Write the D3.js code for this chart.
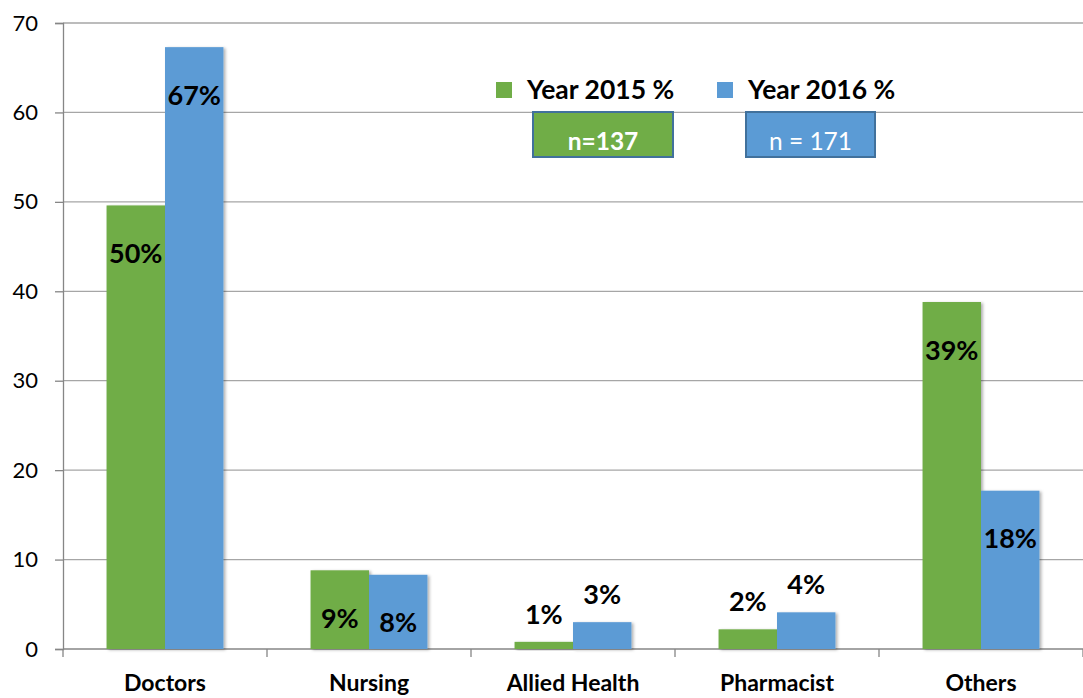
<!DOCTYPE html>
<html>
<head>
<meta charset="utf-8">
<script src="https://cdn.jsdelivr.net/npm/d3@7"></script>
<style>
  body { margin: 0; background: #fff; }
  text { font-family: Lato, "Open Sans", sans-serif; }
</style>
</head>
<body>
<svg id="chart" width="1083" height="698"></svg>
<script>
// 数据
var categories = ["Doctors", "Nursing", "Allied Health", "Pharmacist", "Others"];
var seriesNames = ["Year 2015 %", "Year 2016 %"];
var year2015 = [49.6, 8.8, 0.8, 2.2, 38.8];
var year2016 = [67.3, 8.3, 3.0, 4.1, 17.7];
var labels2015 = ["50%", "9%", "1%", "2%", "39%"];
var labels2016 = ["67%", "8%", "3%", "4%", "18%"];
var sampleSizes = ["n=137", "n = 171"];
var yTicks = [0, 10, 20, 30, 40, 50, 60, 70];

var colors = ["#70AD47", "#5B9BD5"];

var svg = d3.select("#chart");
// 注意: 不能用 top 作变量名 (window.top)
var plotLeft = 63, plotRight = 1083, plotTop = 23, plotBottom = 649;

var y = d3.scaleLinear().domain([0, 70]).range([plotBottom, plotTop]);
var x0 = d3.scaleBand().domain(categories).range([plotLeft, plotRight])
  .paddingInner(0.427).paddingOuter(0.2135);
var x1 = d3.scaleBand().domain([0, 1]).range([0, x0.bandwidth()]);

// 阴影
var defs = svg.append("defs");
var f = defs.append("filter").attr("id", "shadow")
  .attr("x", "-20%").attr("y", "-20%").attr("width", "140%").attr("height", "140%");
f.append("feDropShadow").attr("dx", 2).attr("dy", 1).attr("stdDeviation", 1.5)
  .attr("flood-color", "#000").attr("flood-opacity", 0.3);

// 网格线
svg.append("g").selectAll("line").data(yTicks.slice(1)).enter().append("line")
  .attr("x1", plotLeft).attr("x2", plotRight)
  .attr("y1", function (d) { return y(d); })
  .attr("y2", function (d) { return y(d); })
  .attr("stroke", "#A6A6A6").attr("stroke-width", 1.3);

// y 轴
var yAxis = svg.append("g").attr("transform", "translate(" + plotLeft + ",0)")
  .call(d3.axisLeft(y).tickValues(yTicks).tickSize(8).tickPadding(17));
yAxis.select(".domain").attr("stroke", "#868686").attr("stroke-width", 1.3);
yAxis.selectAll(".tick line").attr("stroke", "#868686").attr("stroke-width", 1.3);
yAxis.selectAll("text").attr("font-size", 22).attr("fill", "#000")
  .style("font-family", "Lato, sans-serif");

// x 轴
var xAxis = svg.append("g").attr("transform", "translate(0," + plotBottom + ")");
xAxis.append("line").attr("x1", plotLeft).attr("x2", plotRight)
  .attr("stroke", "#868686").attr("stroke-width", 1.3);
xAxis.selectAll("line.sep").data(d3.range(categories.length + 1)).enter().append("line")
  .attr("class", "sep")
  .attr("x1", function (i) { return plotLeft + i * x0.step(); })
  .attr("x2", function (i) { return plotLeft + i * x0.step(); })
  .attr("y1", 0).attr("y2", 8)
  .attr("stroke", "#868686").attr("stroke-width", 1.3);
xAxis.selectAll("text").data(categories).enter().append("text")
  .attr("x", function (d) { return x0(d) + x0.bandwidth() / 2; })
  .attr("y", 42)
  .attr("text-anchor", "middle")
  .attr("font-size", 23).attr("font-weight", "bold")
  .text(function (d) { return d; });

// 条形
var series = [year2015, year2016];
var seriesLabels = [labels2015, labels2016];

series.forEach(function (vals, s) {
  var g = svg.append("g");
  g.selectAll("rect").data(vals).enter().append("rect")
    .attr("x", function (d, i) { return x0(categories[i]) + x1(s); })
    .attr("y", function (d) { return y(d); })
    .attr("width", x1.bandwidth())
    .attr("height", function (d) { return y(0) - y(d); })
    .attr("fill", colors[s])
    .attr("filter", "url(#shadow)");

  g.selectAll("text").data(vals).enter().append("text")
    .attr("x", function (d, i) { return x0(categories[i]) + x1(s) + x1.bandwidth() / 2; })
    .attr("y", function (d) {
      // 小于5的放在条形上方，其余放在条形内部
      return d < 5 ? y(d) - 28 : y(d) + 48;
    })
    .attr("dy", "0.36em")
    .attr("text-anchor", "middle")
    .attr("font-size", 27).attr("font-weight", "bold")
    .attr("fill", "#000")
    .text(function (d, i) { return seriesLabels[s][i]; });
});

// 图例
var legendX = [496, 717];
var legend = svg.append("g");
seriesNames.forEach(function (name, s) {
  legend.append("rect")
    .attr("x", legendX[s]).attr("y", 82).attr("width", 16).attr("height", 16)
    .attr("fill", colors[s]);
  legend.append("text")
    .attr("x", legendX[s] + 31).attr("y", 99)
    .attr("font-size", 26.5).attr("font-weight", "bold")
    .text(name);
});

// 样本量框
var boxX = [533, 746], boxW = [140, 129];
sampleSizes.forEach(function (t, s) {
  legend.append("rect")
    .attr("x", boxX[s]).attr("y", 112).attr("width", boxW[s]).attr("height", 45)
    .attr("fill", colors[s]).attr("stroke", "#41719C").attr("stroke-width", 2);
  legend.append("text")
    .attr("x", boxX[s] + boxW[s] / 2).attr("y", 150)
    .attr("text-anchor", "middle")
    .attr("font-size", 24.5).attr("font-weight", s === 0 ? "bold" : "normal")
    .attr("fill", "#fff")
    .text(t);
});
</script>
</body>
</html>
